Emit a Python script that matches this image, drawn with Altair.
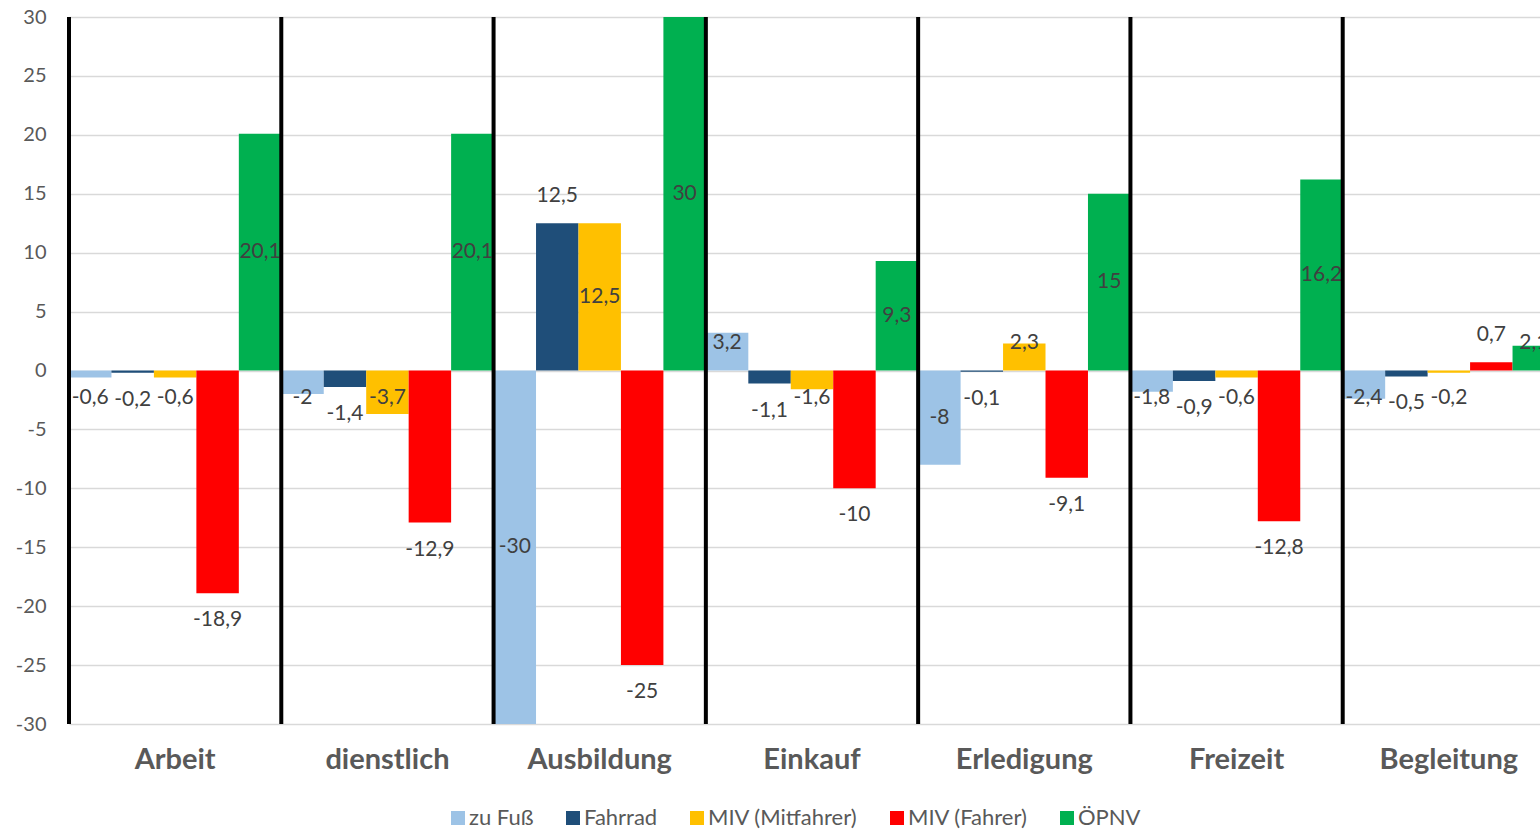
import altair as alt
import pandas as pd

# Change in mode share (percentage points) by trip purpose
categories = ["Arbeit", "dienstlich", "Ausbildung", "Einkauf", "Erledigung", "Freizeit", "Begleitung"]
series = ["zu Fuß", "Fahrrad", "MIV (Mitfahrer)", "MIV (Fahrer)", "ÖPNV"]

zu_fuss = [-0.6, -2, -30, 3.2, -8, -1.8, -2.4]
fahrrad = [-0.2, -1.4, 12.5, -1.1, -0.1, -0.9, -0.5]
miv_mitfahrer = [-0.6, -3.7, 12.5, -1.6, 2.3, -0.6, -0.2]
miv_fahrer = [-18.9, -12.9, -25, -10, -9.1, -12.8, 0.7]
oepnv = [20.1, 20.1, 30, 9.3, 15, 16.2, 2.1]

colors = ["#9DC3E6", "#1F4E79", "#FFC000", "#FF0000", "#00B050"]
# label placement per series: centred in the bar or just beyond its end
label_mode = {"zu Fuß": "center", "Fahrrad": "end", "MIV (Mitfahrer)": "center",
              "MIV (Fahrer)": "end", "ÖPNV": "center"}

rows = []
for s, vals in zip(series, [zu_fuss, fahrrad, miv_mitfahrer, miv_fahrer, oepnv]):
    for c, v in zip(categories, vals):
        rows.append({"Zweck": c, "Modus": s, "Wert": v, "Lage": label_mode[s]})
df = pd.DataFrame(rows)

FONT = "Lato"
GREY = "#595959"

x_scale = alt.Scale(domain=categories, range=[0, 1486], paddingInner=0, paddingOuter=0)
y_scale = alt.Scale(domain=[-30, 30], nice=False, zero=False)
off = alt.XOffset("Modus:N", sort=series,
                  scale=alt.Scale(domain=series, paddingInner=0, paddingOuter=0))

x_axis = alt.Axis(labelFont=FONT, labelFontSize=29, labelFontWeight="bold", labelColor=GREY,
                  labelPadding=21, labelAngle=0, domain=False, ticks=False, grid=False,
                  title=None)
y_axis = alt.Axis(values=list(range(-30, 31, 5)), labelFont=FONT, labelFontSize=20,
                  labelColor=GREY, labelPadding=23, labelExpr="toString(datum.value)",
                  domain=False, ticks=False, grid=True, gridColor="#d9d9d9", gridWidth=1.3,
                  title=None)

bars = alt.Chart(df).mark_bar(clip=True).encode(
    x=alt.X("Zweck:N", sort=categories, scale=x_scale, axis=x_axis),
    xOffset=off,
    y=alt.Y("Wert:Q", scale=y_scale, axis=y_axis),
    color=alt.Color("Modus:N", sort=series, scale=alt.Scale(domain=series, range=colors),
                    legend=alt.Legend(title=None, orient="none", legendX=378, legendY=790,
                                      direction="horizontal", columns=5, symbolType="square",
                                      symbolSize=196, symbolStrokeWidth=0, labelFont=FONT,
                                      labelFontSize=22, labelColor=GREY, labelOffset=0,
                                      columnPadding=28,
                                      labelExpr="indexof(datum.label, 'MIV') == 0 ? '\u00a0' + datum.label : datum.label")),
)

labels = alt.Chart(df).transform_calculate(
    ly="datum.Lage == 'center' ? (datum.Wert < 0 ? -1 : 1) * max(abs(datum.Wert) / 2, 2.3)"
       " : datum.Wert + (datum.Wert < 0 ? -2.3 : 2.3)",
    txt="replace(toString(datum.Wert), '.', ',')",
).mark_text(font=FONT, fontSize=21, color="#404040", baseline="middle", align="center").encode(
    x=alt.X("Zweck:N", sort=categories, scale=x_scale),
    xOffset=off,
    y=alt.Y("ly:Q", scale=y_scale),
    text="txt:N",
)

separators = alt.Chart(pd.DataFrame({"Zweck": categories})).mark_rule(
    color="black", strokeWidth=4
).encode(
    x=alt.X("Zweck:N", sort=categories, scale=x_scale, bandPosition=0),
)

chart = alt.layer(bars, labels, separators).properties(
    width=1471, height=707,
    padding={"left": 69, "top": 17, "right": 0, "bottom": 105},
    autosize="none",
).configure_view(stroke=None)

chart.save("out.html", embed_options={"renderer": "svg", "actions": False})
